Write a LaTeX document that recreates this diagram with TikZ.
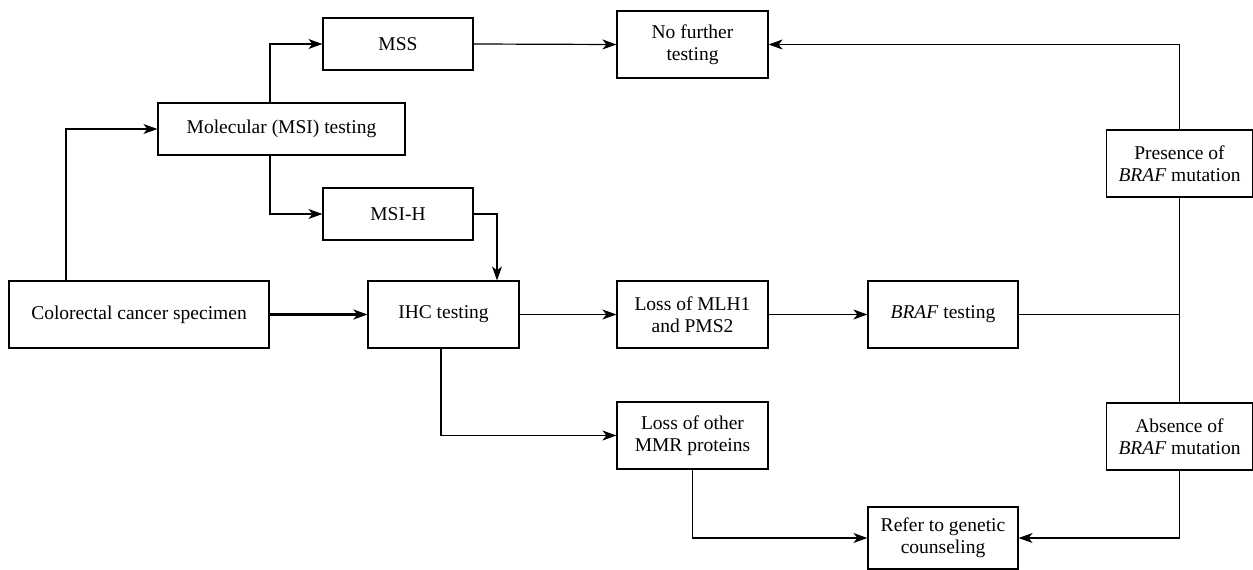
\documentclass[tikz,border=0pt]{standalone}
\usepackage{fontspec}
\setmainfont{Liberation Serif}
\usetikzlibrary{arrows.meta}
\begin{document}
\begin{tikzpicture}[x=1pt,y=-1pt,
  box/.style={draw, line width=1.2pt, inner sep=0pt, align=center,
    font=\fontsize{19.5}{22}\selectfont},
  arr/.style={line width=1.2pt, -{Stealth[length=14pt,width=10pt,inset=4pt]}},
  ln/.style={line width=1.2pt}]
\useasboundingbox (0,0) rectangle (1253,570);
\node[box, minimum width=150pt, minimum height=52pt] (mss) at (398,44) {MSS};
\node[box, minimum width=151pt, minimum height=67pt] (nft) at (692.5,44.5) {No further\\testing};
\node[box, minimum width=247pt, minimum height=52pt] (mol) at (281.5,129) {Molecular (MSI) testing};
\node[box, minimum width=150pt, minimum height=52pt] (msih) at (398,214) {MSI-H};
\node[box, minimum width=260pt, minimum height=67pt] (crc) at (139,314.5) {Colorectal cancer specimen};
\node[box, minimum width=151pt, minimum height=67pt] (ihc) at (443.5,314.5) {IHC testing};
\node[box, minimum width=151pt, minimum height=67pt] (mlh) at (692.5,314.5) {Loss of MLH1\\and PMS2};
\node[box, minimum width=150pt, minimum height=67pt] (braf) at (943,314.5) {\textit{BRAF} testing};
\node[box, minimum width=151pt, minimum height=67pt] (other) at (692.5,435.5) {Loss of other\\MMR proteins};
\node[box, minimum width=150pt, minimum height=62pt] (refer) at (943,538) {Refer to genetic\\counseling};
\node[box, minimum width=146pt, minimum height=67pt] (pres) at (1179.5,163.5) {Presence of\\\textit{BRAF} mutation};
\node[box, minimum width=146pt, minimum height=67pt] (abs) at (1179.5,436.5) {Absence of\\\textit{BRAF} mutation};

\draw[arr] ([xshift=-73pt]crc.north) |- (mol.west);
\draw[arr] ([xshift=-11.5pt]mol.north) |- (mss.west);
\draw[arr] ([xshift=-11.5pt]mol.south) |- (msih.west);
\draw[arr] (mss.east) -- (nft.west);
\draw[arr] (msih.east) -| ([xshift=53.5pt]ihc.north);
\draw[arr, line width=2.4pt] (crc.east) -- (ihc.west);
\draw[arr] (ihc.east) -- (mlh.west);
\draw[arr] ([xshift=-2.5pt]ihc.south) |- (other.west);
\draw[arr] (mlh.east) -- (braf.west);
\draw[ln] (braf.east) -- (braf.east -| pres.south);
\draw[ln] (pres.south) -- (abs.north);
\draw[arr] (pres.north) |- (nft.east);
\draw[arr] (abs.south) |- (refer.east);
\draw[arr] (other.south) |- (refer.west);
\end{tikzpicture}
\end{document}
